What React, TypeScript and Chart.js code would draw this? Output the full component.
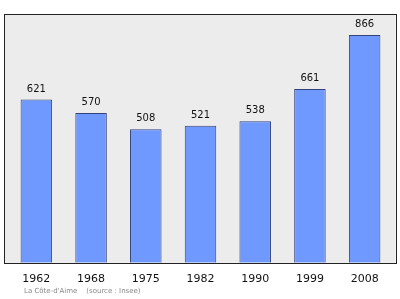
import React, { useEffect, useRef } from "react";
import { Chart, registerables } from "chart.js";

Chart.register(...registerables);

const years = ["1962", "1968", "1975", "1982", "1990", "1999", "2008"];
const population = [621, 570, 508, 521, 538, 661, 866];
const caption = "La Côte-d'Aime    (source : Insee)";

const framePlugin = {
  id: "frame",
  beforeDatasetsDraw(chart: any) {
    const { ctx, chartArea } = chart;
    const l = chartArea.left - 5;
    const r = chartArea.right + 3.5;
    const t = chartArea.top + 1;
    const b = chartArea.bottom;
    ctx.save();
    ctx.fillStyle = "#ececec";
    ctx.fillRect(l, t, r - l, b - t);
    ctx.strokeStyle = "#222222";
    ctx.lineWidth = 1;
    ctx.strokeRect(Math.round(l) + 0.5, Math.round(t) + 0.5, Math.round(r - l), Math.round(b - t));
    ctx.restore();
  },
  afterDatasetsDraw(chart: any) {
    const { ctx } = chart;
    const meta = chart.getDatasetMeta(0);
    ctx.save();
    ctx.font = "10px 'DejaVu Sans'";
    ctx.fillStyle = "#111111";
    ctx.textAlign = "center";
    ctx.textBaseline = "middle";
    meta.data.forEach((bar: any, i: number) => {
      ctx.fillText(String(population[i]), bar.x, bar.y - 10.5);
    });
    ctx.restore();
  },
};

export default function App() {
  const ref = useRef<HTMLCanvasElement>(null);
  useEffect(() => {
    document.body.style.margin = "0";
    const chart = new Chart(ref.current!, {
      type: "bar",
      data: {
        labels: years,
        datasets: [
          {
            data: population,
            backgroundColor: "#7099ff",
            borderColor: "#33437a",
            borderWidth: 1,
            barPercentage: 0.576,
            categoryPercentage: 1,
          },
        ],
      },
      options: {
        animation: false,
        responsive: false,
        layout: { padding: { left: 9, right: 8, top: 13, bottom: 3 } },
        plugins: { legend: { display: false }, tooltip: { enabled: false } },
        scales: {
          x: {
            grid: { display: false, drawTicks: false },
            border: { display: false },
            ticks: {
              color: "#111111",
              font: { family: "'DejaVu Sans'", size: 11 },
              padding: 10,
            },
          },
          y: { display: false, min: 0, max: 950 },
        },
      },
      plugins: [framePlugin],
    });
    return () => chart.destroy();
  }, []);
  return (
    <div style={{ position: "relative", width: 400, height: 299 }}>
      <canvas ref={ref} width={400} height={299} />
      <div
        style={{
          position: "absolute",
          left: 24,
          top: 286,
          fontFamily: "'DejaVu Sans'",
          fontSize: 7,
          color: "#8a8a8a",
          whiteSpace: "pre",
          lineHeight: "10px",
        }}
      >
        {caption}
      </div>
    </div>
  );
}
